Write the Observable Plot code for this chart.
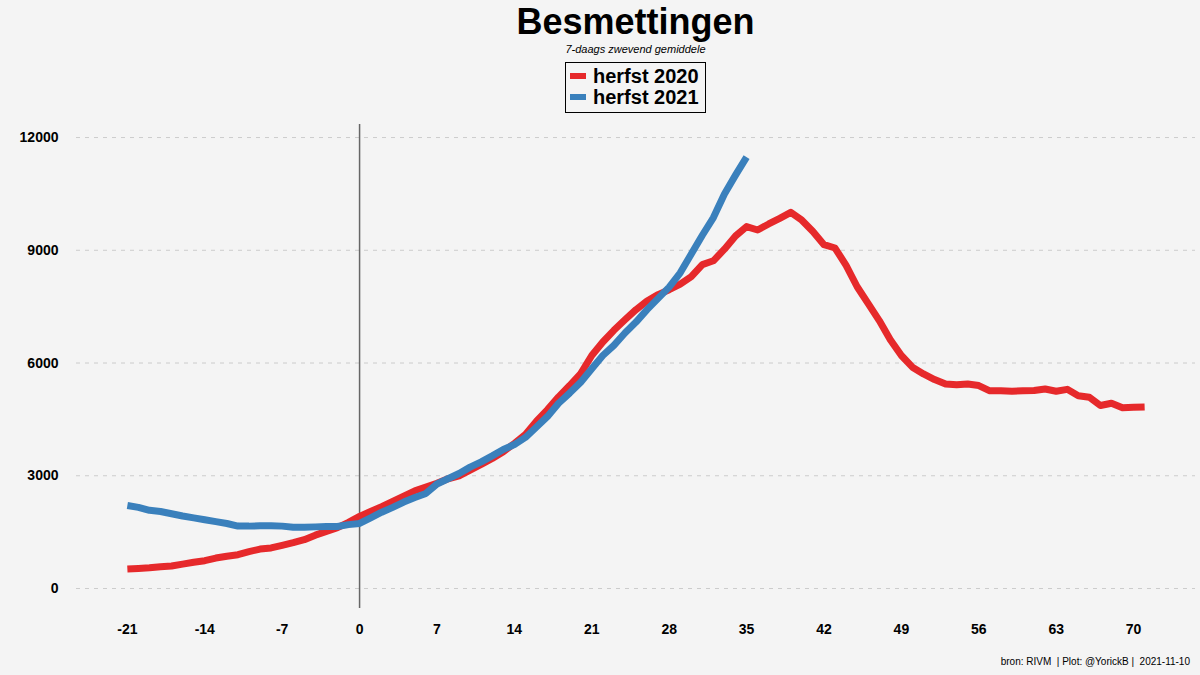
<!DOCTYPE html>
<html>
<head>
<meta charset="utf-8">
<script src="https://cdn.jsdelivr.net/npm/d3@7"></script>
<script src="https://cdn.jsdelivr.net/npm/@observablehq/plot@0.6"></script>
<style>
  html, body { margin: 0; padding: 0; background: #f4f4f4; }
  #wrap { position: relative; width: 1200px; height: 675px; background: #f4f4f4; font-family: "Liberation Sans", Arial, sans-serif; overflow: hidden; }
  #head { position: relative; width: 1200px; height: 118px; }
  #title { position: absolute; left: 0; width: 1271px; top: 1px; text-align: center; font-size: 36px; font-weight: bold; line-height: 42px; color: #000; }
  #sub { position: absolute; left: 0; width: 1271px; top: 43px; text-align: center; font-size: 11px; font-style: italic; color: #000; }
  #legend { position: absolute; left: 565px; top: 62px; width: 139px; height: 49px; border: 1.5px solid #000; }
  .li { position: absolute; left: 4px; font-size: 20px; font-weight: bold; line-height: 20px; color: #000; white-space: nowrap; }
  .key { display: inline-block; width: 16px; height: 6px; vertical-align: middle; margin-right: 7px; position: relative; top: -2px; }
  #cap { position: absolute; right: 10px; top: 656px; font-size: 10px; color: #000; white-space: pre; }
  svg { display: block; }
</style>
</head>
<body>
<div id="wrap">
  <div id="head">
    <div id="title">Besmettingen</div>
    <div id="sub">7-daags zwevend gemiddele</div>
    <div id="legend"></div>
  </div>
  <div id="chart"></div>
  <div id="cap">bron: RIVM  | Plot: @YorickB |  2021-11-10</div>
</div>
<script>
// Series names and colours
const seriesNames = ["herfst 2020", "herfst 2021"];
const seriesColors = ["#e6292b", "#3a80bc"];

// Day offsets relative to day 0
const days2020 = [-21,-20,-19,-18,-17,-16,-15,-14,-13,-12,-11,-10,-9,-8,-7,-6,-5,-4,-3,-2,-1,0,1,2,3,4,5,6,7,8,9,10,11,12,13,14,15,16,17,18,19,20,21,22,23,24,25,26,27,28,29,30,31,32,33,34,35,36,37,38,39,40,41,42,43,44,45,46,47,48,49,50,51,52,53,54,55,56,57,58,59,60,61,62,63,64,65,66,67,68,69,70,71];
const values2020 = [520,535,550,580,600,650,700,740,810,860,900,980,1050,1080,1150,1220,1300,1420,1520,1620,1760,1920,2050,2180,2320,2460,2600,2700,2800,2920,3000,3150,3300,3460,3640,3860,4100,4450,4760,5100,5400,5720,6200,6560,6870,7150,7420,7650,7820,7950,8100,8300,8620,8720,9030,9380,9630,9540,9700,9850,10010,9800,9500,9150,9060,8600,8030,7580,7130,6620,6200,5890,5710,5560,5440,5420,5440,5400,5260,5260,5250,5260,5270,5310,5250,5300,5130,5090,4870,4930,4810,4820,4830];

const days2021 = [-21,-20,-19,-18,-17,-16,-15,-14,-13,-12,-11,-10,-9,-8,-7,-6,-5,-4,-3,-2,-1,0,1,2,3,4,5,6,7,8,9,10,11,12,13,14,15,16,17,18,19,20,21,22,23,24,25,26,27,28,29,30,31,32,33,34,35];
const values2021 = [2210,2160,2080,2050,1990,1930,1880,1830,1780,1730,1660,1660,1670,1670,1660,1630,1630,1640,1650,1650,1700,1730,1880,2030,2160,2300,2420,2530,2780,2920,3060,3230,3370,3530,3700,3830,4020,4300,4580,4930,5200,5490,5850,6200,6470,6800,7090,7420,7720,8020,8400,8900,9400,9870,10500,11000,11480];

const xTicks = [-21,-14,-7,0,7,14,21,28,35,42,49,56,63,70];
const yTicks = [0,3000,6000,9000,12000];

const data2020 = days2020.map((d, i) => ({day: d, value: values2020[i], series: seriesNames[0]}));
const data2021 = days2021.map((d, i) => ({day: d, value: values2021[i], series: seriesNames[1]}));

// legend
const leg = document.getElementById("legend");
seriesNames.forEach((n, i) => {
  const div = document.createElement("div");
  div.className = "li";
  div.style.top = (3 + i * 21) + "px";
  div.innerHTML = `<span class="key" style="background:${seriesColors[i]}"></span>${n}`;
  leg.appendChild(div);
});

const chart = Plot.plot({
  width: 1200,
  height: 540,
  marginTop: 6,
  marginBottom: 50,
  marginLeft: 76,
  marginRight: 5,
  style: {background: "transparent", fontFamily: "Liberation Sans, Arial, sans-serif", color: "#000"},
  x: {domain: [-25.6, 75.6], ticks: xTicks},
  y: {domain: [-532, 12347], ticks: yTicks},
  marks: [
    Plot.gridY(yTicks, {stroke: "#cccccc", strokeOpacity: 1, strokeDasharray: "4,5", strokeWidth: 1}),
    Plot.ruleX([0], {stroke: "#666", strokeWidth: 1.5}),
    Plot.lineY(data2020, {x: "day", y: "value", stroke: seriesColors[0], strokeWidth: 7, strokeLinejoin: "round", strokeLinecap: "butt"}),
    Plot.lineY(data2021, {x: "day", y: "value", stroke: seriesColors[1], strokeWidth: 7, strokeLinejoin: "round", strokeLinecap: "butt"}),
    Plot.axisY(yTicks, {tickSize: 0, tickPadding: 18, fontSize: 14, fontWeight: "bold", tickFormat: d => String(d), label: null}),
    Plot.axisX(xTicks, {tickSize: 0, tickPadding: 16, fontSize: 14, fontWeight: "bold", tickFormat: d => String(d), label: null})
  ]
});
document.getElementById("chart").appendChild(chart);
</script>
</body>
</html>
